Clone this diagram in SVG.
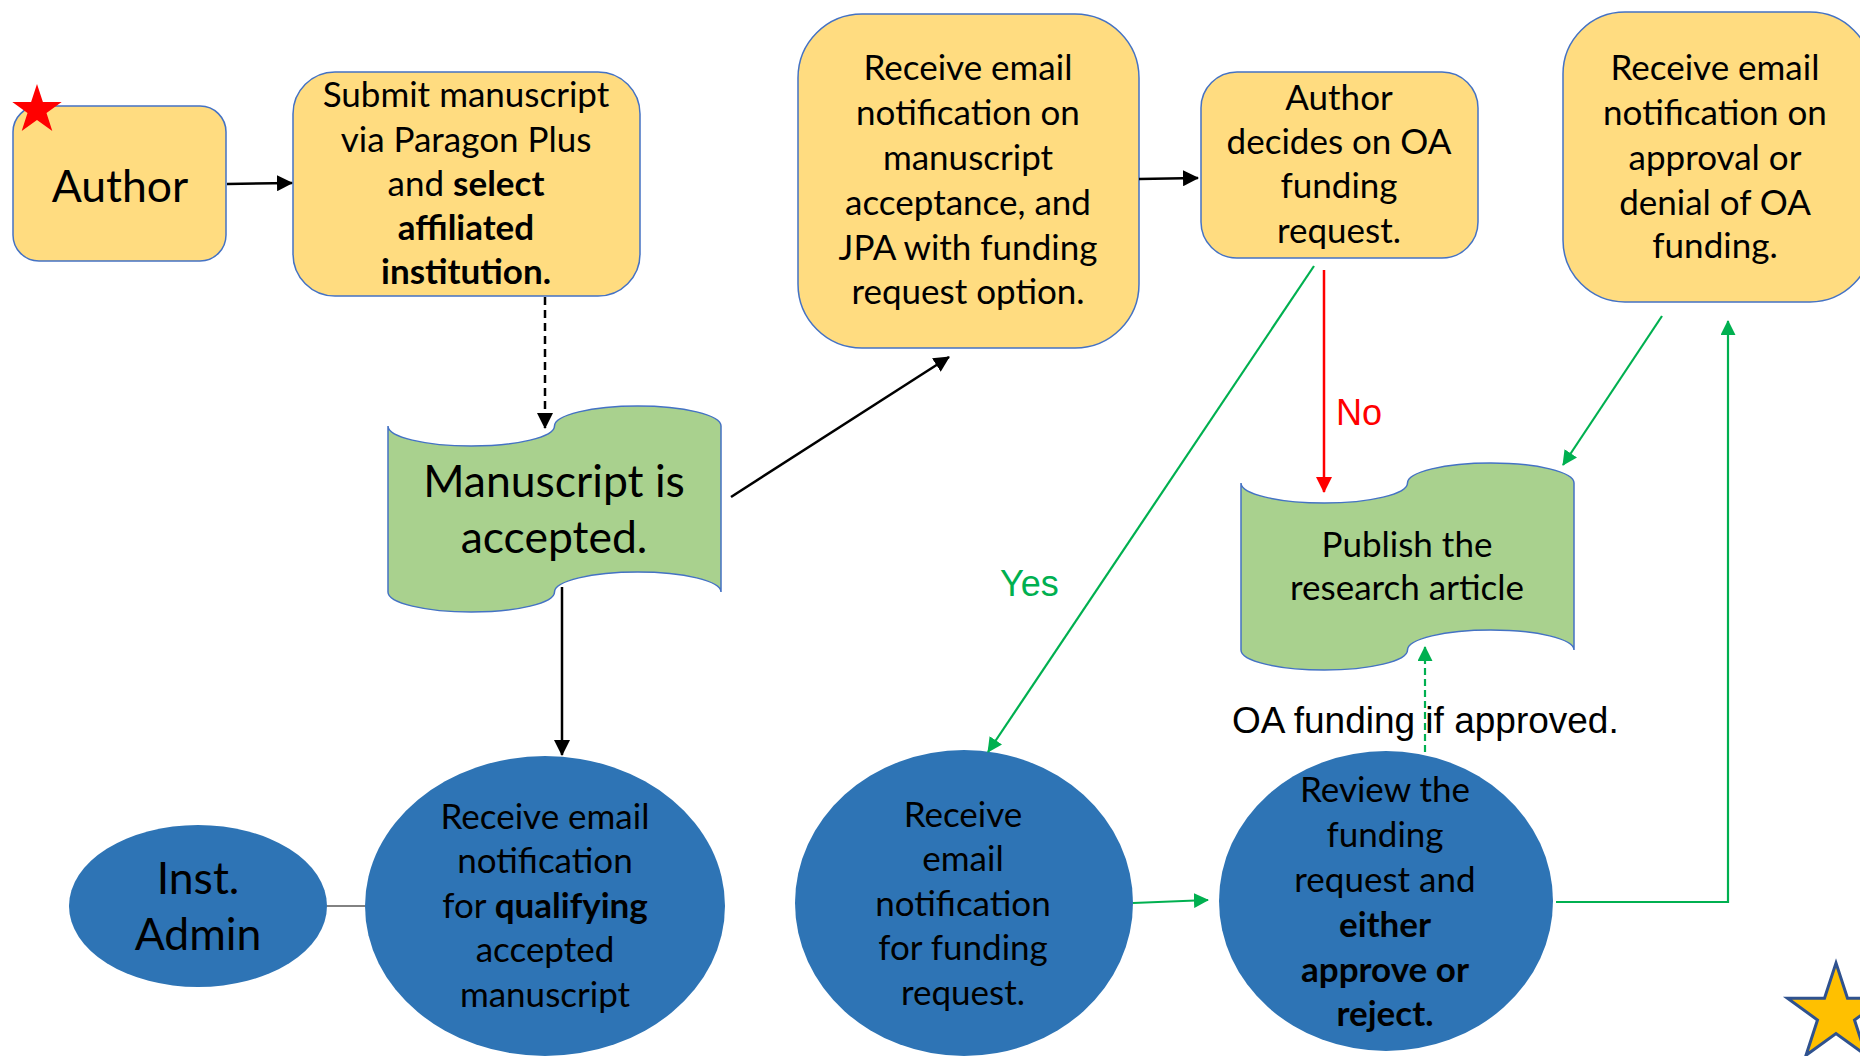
<svg xmlns="http://www.w3.org/2000/svg" width="1860" height="1056" viewBox="0 0 1860 1056">
<defs>
<style>
.ybox{fill:#FFDC80;stroke:#4472C4;stroke-width:1.5}
.scroll{fill:#A9D18E;stroke:#4472C4;stroke-width:1.5}
.blue{fill:#2E74B5}
.t{font-family:Lato,"Open Sans","Liberation Sans",sans-serif;fill:#000;text-anchor:middle}
.m{font-size:35px}
.L{font-size:44.5px}
.b{font-weight:bold}
.a{font-family:"Liberation Sans",Arial,sans-serif}
.blk{stroke:#000;stroke-width:2.5;fill:none}
.grn{stroke:#00B050;stroke-width:2.2;fill:none}
.red{stroke:#FF0000;stroke-width:2.5;fill:none}
</style>
<marker id="ab" viewBox="0 0 16 16" markerUnits="userSpaceOnUse" markerWidth="16" markerHeight="16" refX="15" refY="8" orient="auto"><path d="M0,0 L16,8 L0,16 z" fill="#000"/></marker>
<marker id="ag" viewBox="0 0 16 16" markerUnits="userSpaceOnUse" markerWidth="15" markerHeight="15" refX="15" refY="8" orient="auto"><path d="M0,0 L16,8 L0,16 z" fill="#00B050"/></marker>
<marker id="ar" viewBox="0 0 16 16" markerUnits="userSpaceOnUse" markerWidth="16" markerHeight="16" refX="15" refY="8" orient="auto"><path d="M0,0 L16,8 L0,16 z" fill="#FF0000"/></marker>
</defs>
<rect width="1860" height="1056" fill="#fff"/>

<g id="author">
<rect class="ybox" x="13" y="106" width="213" height="155" rx="26"/>
<text class="t L" x="120" y="202">Author</text>
</g>
<g id="start-star">
<polygon points="37,84 42.9,101.9 61.7,102 46.5,113.1 52.3,131 37,120 21.7,131 27.5,113.1 12.3,102 31.1,101.9" fill="#FF0000"/>
</g>

<g id="submit">
<rect class="ybox" x="293" y="72" width="347" height="224" rx="42"/>
<text class="t m" x="466" y="107">Submit manuscript</text>
<text class="t m" x="466" y="152">via Paragon Plus</text>
<text class="t m" x="466" y="196">and <tspan class="b">select</tspan></text>
<text class="t m b" x="466" y="240">affiliated</text>
<text class="t m b" x="466" y="284">institution.</text>
</g>

<g id="accepted">
<path class="scroll" d="M388,426 A83.25,20 0 0 0 554.5,426 A83.25,20 0 0 1 721,426 L721,592 A83.25,20 0 0 0 554.5,592 A83.25,20 0 0 1 388,592 Z"/>
<text class="t L" x="554" y="497">Manuscript is</text>
<text class="t L" x="554" y="553">accepted.</text>
</g>

<g id="notify-acceptance">
<rect class="ybox" x="798" y="14" width="341" height="334" rx="64"/>
<text class="t m" x="968" y="80">Receive email</text>
<text class="t m" x="968" y="125">notification on</text>
<text class="t m" x="968" y="170">manuscript</text>
<text class="t m" x="968" y="215">acceptance, and</text>
<text class="t m" x="968" y="260">JPA with funding</text>
<text class="t m" x="968" y="304">request option.</text>
</g>

<g id="author-decides">
<rect class="ybox" x="1201" y="72" width="277" height="186" rx="36"/>
<text class="t m" x="1339" y="110">Author</text>
<text class="t m" x="1339" y="154">decides on OA</text>
<text class="t m" x="1339" y="198">funding</text>
<text class="t m" x="1339" y="243">request.</text>
</g>

<g id="notify-decision">
<rect class="ybox" x="1563" y="12" width="309" height="290" rx="62"/>
<text class="t m" x="1715" y="80">Receive email</text>
<text class="t m" x="1715" y="125">notification on</text>
<text class="t m" x="1715" y="170">approval or</text>
<text class="t m" x="1715" y="215">denial of OA</text>
<text class="t m" x="1715" y="258">funding.</text>
</g>

<g id="publish">
<path class="scroll" d="M1241,483 A83.25,20 0 0 0 1407.5,483 A83.25,20 0 0 1 1574,483 L1574,650 A83.25,20 0 0 0 1407.5,650 A83.25,20 0 0 1 1241,650 Z"/>
<text class="t m" x="1407" y="557">Publish the</text>
<text class="t m" x="1407" y="600">research article</text>
</g>

<g id="inst-admin">
<ellipse class="blue" cx="198" cy="906" rx="129" ry="81"/>
<text class="t L" x="198" y="894">Inst.</text>
<text class="t L" x="198" y="950">Admin</text>
</g>

<g id="notify-qualifying">
<ellipse class="blue" cx="545" cy="906" rx="180" ry="150"/>
<text class="t m" x="545" y="829">Receive email</text>
<text class="t m" x="545" y="873">notification</text>
<text class="t m" x="545" y="918">for <tspan class="b">qualifying</tspan></text>
<text class="t m" x="545" y="962">accepted</text>
<text class="t m" x="545" y="1007">manuscript</text>
</g>

<g id="notify-funding">
<ellipse class="blue" cx="964" cy="903" rx="169" ry="153"/>
<text class="t m" x="963" y="827">Receive</text>
<text class="t m" x="963" y="871">email</text>
<text class="t m" x="963" y="916">notification</text>
<text class="t m" x="963" y="960">for funding</text>
<text class="t m" x="963" y="1005">request.</text>
</g>

<g id="review">
<ellipse class="blue" cx="1386" cy="901" rx="167" ry="150"/>
<text class="t m" x="1385" y="802">Review the</text>
<text class="t m" x="1385" y="847">funding</text>
<text class="t m" x="1385" y="892">request and</text>
<text class="t m b" x="1385" y="937">either</text>
<text class="t m b" x="1385" y="982">approve or</text>
<text class="t m b" x="1385" y="1026">reject.</text>
</g>

<g id="end-star">
<polygon points="1836,963 1847.5,998.2 1884.5,998.2 1854.5,1020 1866,1055.3 1836,1033.5 1806,1055.3 1817.5,1020 1787.5,998.2 1824.5,998.2" fill="#FFC000" stroke="#2F528F" stroke-width="3" stroke-linejoin="miter"/>
</g>

<g id="labels">
<text class="a" x="1000" y="596" font-size="36" fill="#00B050">Yes</text>
<text class="a" x="1336" y="425" font-size="36" fill="#FF0000">No</text>
<text class="a" x="1232" y="733" font-size="37" fill="#000">OA funding if approved.</text>
</g>

<g id="connectors">
<line class="blk" x1="227" y1="184" x2="292" y2="183" marker-end="url(#ab)"/>
<line class="blk" x1="545" y1="297" x2="545" y2="428" stroke-dasharray="8 5" marker-end="url(#ab)"/>
<line class="blk" x1="731" y1="497" x2="949" y2="357" marker-end="url(#ab)"/>
<line class="blk" x1="562" y1="587" x2="562" y2="755" marker-end="url(#ab)"/>
<line class="blk" x1="1139" y1="179" x2="1198" y2="178" marker-end="url(#ab)"/>
<line x1="327" y1="906" x2="365" y2="906" stroke="#595959" stroke-width="1.5"/>
<line class="red" x1="1324" y1="270" x2="1324" y2="492" marker-end="url(#ar)"/>
<line class="grn" x1="1314" y1="266" x2="988" y2="752" marker-end="url(#ag)"/>
<line class="grn" x1="1662" y1="316" x2="1563" y2="465" marker-end="url(#ag)"/>
<line class="grn" x1="1133" y1="903" x2="1208" y2="900" marker-end="url(#ag)"/>
<polyline class="grn" points="1556,902 1728,902 1728,321" marker-end="url(#ag)"/>
<line class="grn" x1="1425" y1="752" x2="1425" y2="647" stroke-dasharray="7 4" marker-end="url(#ag)"/>
</g>
</svg>
